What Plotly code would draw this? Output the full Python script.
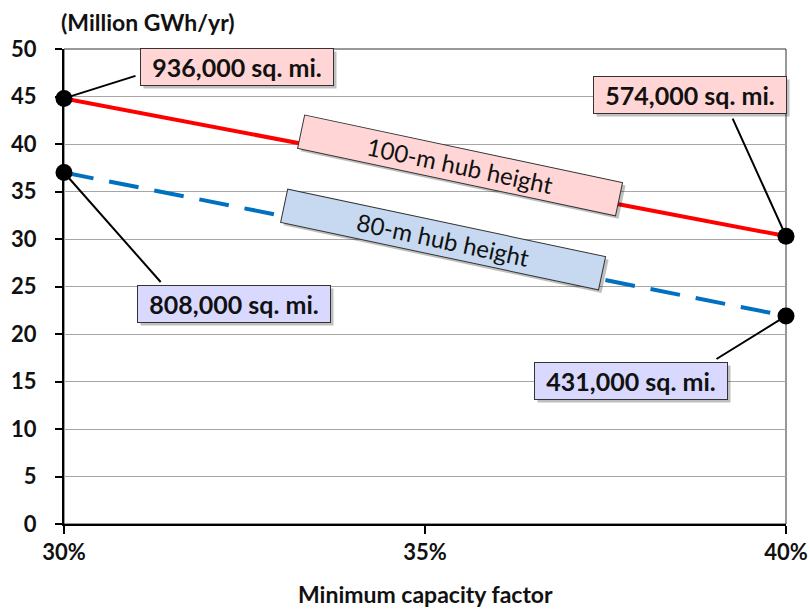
import plotly.graph_objects as go

# ---- data ----
cf_ends = [30, 40]
hub100_values = [44.8, 30.3]
hub80_values = [37.0, 21.9]
x_tick_vals = [30, 35, 40]
x_tick_text = ["30%", "35%", "40%"]
y_tick_vals = [0, 5, 10, 15, 20, 25, 30, 35, 40, 45, 50]
area_labels_100 = ["936,000 sq. mi.", "574,000 sq. mi."]
area_labels_80 = ["808,000 sq. mi.", "431,000 sq. mi."]
series_names = ["100-m hub height", "80-m hub height"]

FONT = "Lato"
TXT = "#111111"
fig = go.Figure()

fig.add_trace(go.Scatter(
    x=cf_ends, y=hub100_values, mode="lines",
    line=dict(color="#FF0000", width=4), cliponaxis=False, showlegend=False))
fig.add_trace(go.Scatter(
    x=cf_ends, y=hub80_values, mode="lines",
    line=dict(color="#0070C0", width=4, dash="30px,16px"), cliponaxis=False, showlegend=False))
fig.add_trace(go.Scatter(
    x=cf_ends + cf_ends, y=hub100_values + hub80_values, mode="markers",
    marker=dict(color="black", size=17), cliponaxis=False, showlegend=False))

ann = []

def connector(x, y, ax, ay):
    ann.append(dict(x=x, y=y, xref="x", yref="y", ax=ax, ay=ay, text="",
                    showarrow=True, arrowhead=0, arrowwidth=2, arrowcolor="black",
                    font=dict(size=1)))

connector(cf_ends[0], hub100_values[0], 73, -23)
connector(cf_ends[1], hub100_values[1], -54, -119)
connector(cf_ends[0], hub80_values[0], 98, 111)
connector(cf_ends[1], hub80_values[1], -71, 44)

def label(x, y, text, bg, size=25, angle=0, width=186, height=30, weight="bold"):
    common = dict(x=x, y=y, xref="x", yref="y", showarrow=False, textangle=angle,
                  width=width, height=height, borderpad=3, align="center")
    # drop shadow (fixed-size empty box)
    ann.append(dict(common, text=" ",
                    font=dict(family=FONT, size=size, color="rgba(0,0,0,0)"),
                    bgcolor="rgba(0,0,0,0.25)", borderwidth=1, bordercolor="rgba(0,0,0,0)",
                    xshift=3, yshift=-3))
    ann.append(dict(common, text=text,
                    font=dict(family=FONT, size=size, color=TXT, weight=weight),
                    bgcolor=bg, bordercolor="#333333", borderwidth=1))

label(32.39, 48.1, area_labels_100[0], "#FFD5D5")
label(38.67, 45.16, area_labels_100[1], "#FFD5D5")
label(32.36, 23.16, area_labels_80[0], "#D9D9FF")
label(37.86, 15.05, area_labels_80[1], "#D9D9FF")
label(35.49, 37.7, series_names[0], "#FFD5D5", size=24, angle=12, width=318, height=27, weight="normal")
label(35.25, 29.9, series_names[1], "#C6D9F1", size=24, angle=12, width=318, height=27, weight="normal")

ann.append(dict(x=0, y=1, xref="paper", yref="paper", xanchor="left", yanchor="middle",
                xshift=-5, yshift=27,
                text="(Million GWh/yr)", showarrow=False,
                font=dict(family=FONT, size=23, color=TXT, weight="bold")))
ann.append(dict(x=0.5, y=0, xref="paper", yref="paper", xanchor="center", yanchor="middle",
                yshift=-70,
                text="Minimum capacity factor", showarrow=False,
                font=dict(family=FONT, size=23, color=TXT, weight="bold")))

fig.update_layout(
    width=810, height=609,
    margin=dict(l=64, r=24, t=49, b=85),
    paper_bgcolor="white", plot_bgcolor="white",
    font=dict(family=FONT, size=23, color=TXT),
    annotations=ann,
    xaxis=dict(range=[30, 40], tickvals=x_tick_vals, ticktext=x_tick_text, automargin=False,
               showgrid=False, zeroline=False, showline=True, linecolor="black", linewidth=2,
               ticks="outside", ticklen=8, tickwidth=2, tickcolor="black",
               tickfont=dict(family=FONT, size=22, color=TXT, weight="bold")),
    yaxis=dict(range=[0, 50], tickvals=y_tick_vals, showgrid=True, gridcolor="#A6A6A6", gridwidth=1,
               automargin=False,
               zeroline=False, showline=True, linecolor="black", linewidth=2,
               ticks="outside", ticklen=7, tickwidth=2, tickcolor="black",
               ticklabelstandoff=14,
               tickfont=dict(family=FONT, size=22, color=TXT, weight="bold")),
    shapes=[dict(type="rect", xref="paper", yref="paper", x0=0, x1=1, y0=0, y1=1,
                 line=dict(color="#333333", width=1), layer="below")],
)

fig.write_html("out.html", config={"displayModeBar": False},
               post_script="document.body.style.margin='0px';")
